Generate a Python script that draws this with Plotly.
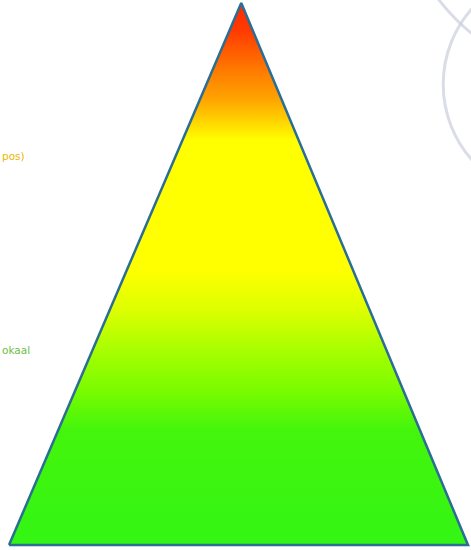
import plotly.graph_objects as go

# Pyramid outline (x: 0..100 base, y: 0 bottom .. 100 apex)
pyramid_x = [0, 50.6, 100, 0]
pyramid_y = [0, 100, 0, 0]

# Vertical gradient stops (level 0 = base, 1 = apex) and colours
grad_pos = [0.0, 0.212, 0.286, 0.36, 0.434, 0.507, 0.747, 0.775, 0.821, 0.876, 0.95, 1.0]
grad_col = ["#33F514", "#44F50C", "#7AFC00", "#A8FF00", "#DDFF00", "#FFFF00",
            "#FFFF00", "#FFDC00", "#FFA500", "#FF7A00", "#FF3A00", "#FF2A00"]

# Side labels (cropped in the original; visible parts kept)
label_text = ["pos)", "okaal"]
label_y = [71.7, 35.9]
label_col = ["#F0B400", "#6DBE45"]

# Decorative background circles (centre x, centre y, radius) in axis units
circ_cx = [119.4, 128.2]
circ_cy = [85.0, 123.1]
circ_rx = [24.8, 43.6]
circ_ry = [21.0, 36.9]

X0, X1 = -1.961, 100.654
Y0, Y1 = -0.9225, 100.554

fig = go.Figure()

for cx, cy, rx, ry in zip(circ_cx, circ_cy, circ_rx, circ_ry):
    fig.add_shape(type="circle", xref="x", yref="y",
                  x0=cx - rx, x1=cx + rx, y0=cy - ry, y1=cy + ry,
                  line=dict(color="rgba(205,208,222,0.75)", width=3), layer="below")

fig.add_trace(go.Scatter(
    x=pyramid_x, y=pyramid_y, mode="lines", fill="toself",
    fillgradient=dict(type="vertical",
                      colorscale=[[p, c] for p, c in zip(grad_pos, grad_col)]),
    line=dict(color="#2B6E94", width=2.5),
    hoverinfo="skip", showlegend=False,
))

for t, yv, c in zip(label_text, label_y, label_col):
    fig.add_annotation(x=0, y=yv, xref="paper", yref="y", text=t,
                       showarrow=False, xanchor="left", yanchor="middle",
                       font=dict(family="DejaVu Sans", size=10.5, color=c))

fig.update_xaxes(range=[X0, X1], visible=False, fixedrange=True)
fig.update_yaxes(range=[Y0, Y1], visible=False, fixedrange=True)
fig.update_layout(width=471, height=550, margin=dict(l=0, r=0, t=0, b=0),
                  paper_bgcolor="white", plot_bgcolor="white")

fig.write_html("out.html", config={"displayModeBar": False},
               post_script="document.body.style.margin='0';document.body.style.overflow='hidden';")
